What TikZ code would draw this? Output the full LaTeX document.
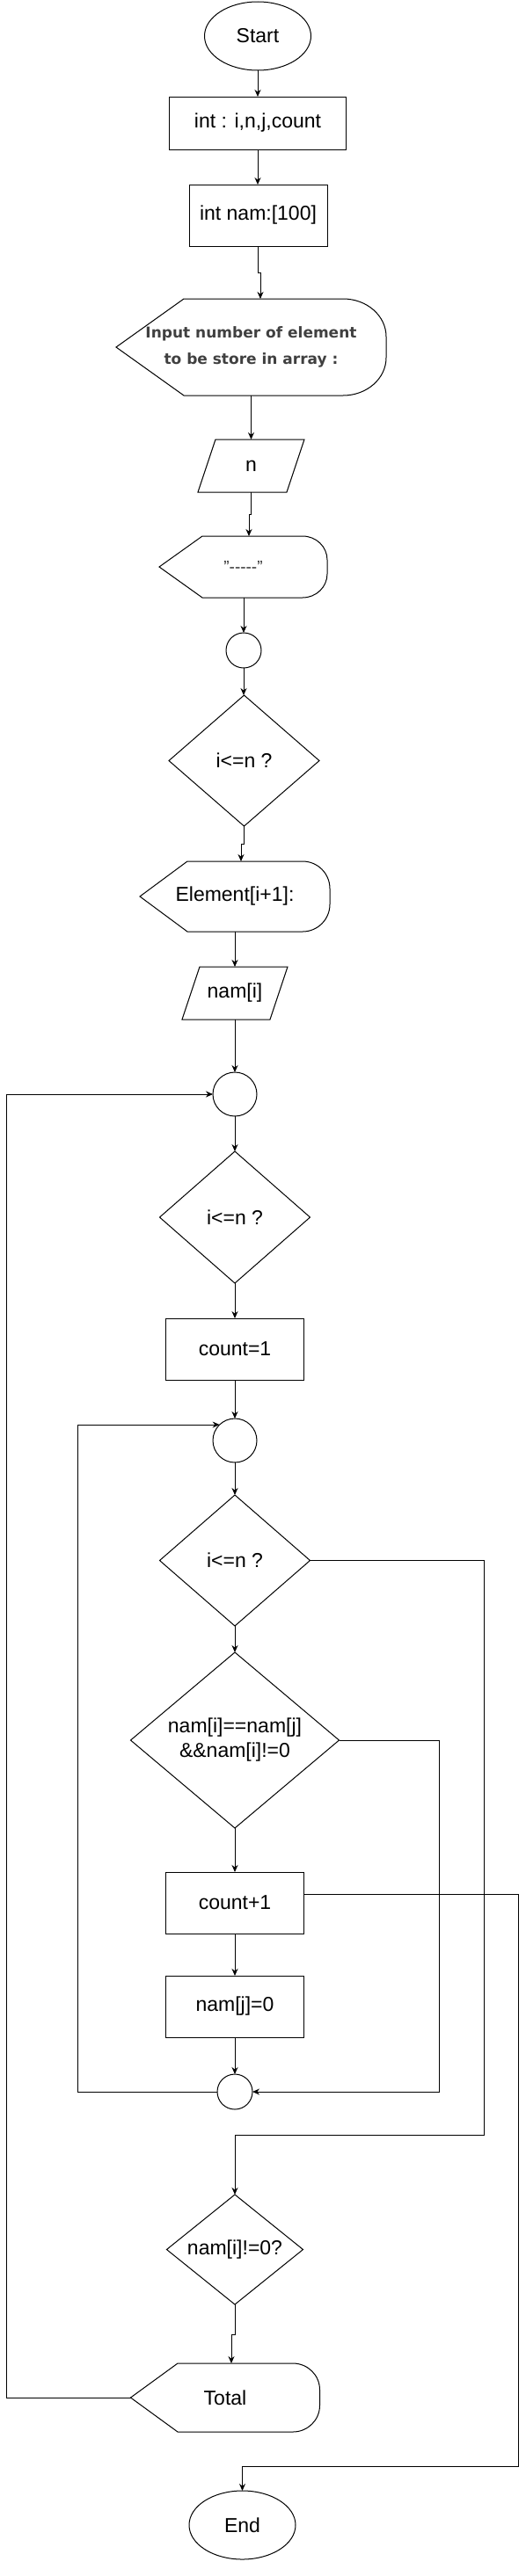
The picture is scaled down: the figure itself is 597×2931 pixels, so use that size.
\documentclass[tikz,border=0pt]{standalone}
\usepackage{fontspec}
\setmainfont{Liberation Sans}
\newfontfamily\dejab{DejaVu Sans}
\usetikzlibrary{shapes.geometric,arrows.meta,calc}
\definecolor{txtgray}{HTML}{404040}
\definecolor{dashgray}{HTML}{333333}
\newcommand\dispshape[4]{\draw (#1.west) -- ($(#1.north west)+(#2,0)$) -- ($(#1.north east)+(-#3,0)$) .. controls +(0.552*#3,0) and +(0,-0.552*#4) .. ($(#1.north east)+(0,#4)$) -- ($(#1.south east)+(0,-#4)$) .. controls +(0,0.552*#4) and +(0.552*#3,0) .. ($(#1.south east)+(-#3,0)$) -- ($(#1.south west)+(#2,0)$) -- cycle;}
\newcommand\parashape[2]{\draw (#1.south west) -- ($(#1.north west)+(#2,0)$) -- (#1.north east) -- ($(#1.south east)+(-#2,0)$) -- cycle;}
\newcommand\diashape[1]{\draw (#1.north) -- (#1.east) -- (#1.south) -- (#1.west) -- cycle;}
\begin{document}
\begin{tikzpicture}[x=1pt,y=-1pt,line width=1pt,
  base/.style={inner sep=0pt, outer sep=0pt, font=\fontsize{23}{28}\selectfont, align=center},
  proc/.style={base, draw, rectangle},
  frame/.style={base, rectangle},
  term/.style={base, draw, ellipse},
  conn/.style={base, draw, circle},
  arr/.style={-{Stealth[length=8pt,width=7pt]}}
]
\fill[white] (0,0) rectangle (597,2931);
\useasboundingbox (0,0) rectangle (597,2931);

\node[term, minimum width=121pt, minimum height=78pt] (start) at (293,41) {Start};
\node[proc, minimum width=201pt, minimum height=60pt] (v1) at (293,140) {int : i,n,j,count};
\node[proc, minimum width=157pt, minimum height=70pt] (v2) at (293.5,245) {int nam:[100]};
\node[frame, minimum width=307pt, minimum height=110pt, font=\dejab\bfseries\fontsize{17}{30}\selectfont, text=txtgray] (d1) at (285.5,395) {Input number of element\\to be store in array :};
\node[frame, minimum width=121pt, minimum height=60pt] (pn) at (285.5,530) {n};
\node[frame, minimum width=191pt, minimum height=70pt, font=\fontsize{19}{22}\selectfont, text=dashgray] (d2) at (276.5,645) {"-\kern0pt-\kern0pt-\kern0pt-\kern0pt-"};
\node[conn, minimum size=40pt] (c1) at (277,740) {};
\node[frame, minimum width=171pt, minimum height=149pt] (q1) at (277.5,865.5) {i<=n ?};
\node[frame, minimum width=216pt, minimum height=80pt] (d3) at (267,1020) {Element[i+1]:};
\node[frame, minimum width=120pt, minimum height=60pt] (pa) at (267,1130) {nam[i]};
\node[conn, minimum size=50pt] (c2) at (267,1245) {};
\node[frame, minimum width=171pt, minimum height=150pt] (q2) at (267,1385) {i<=n ?};
\node[proc, minimum width=157pt, minimum height=70pt] (k1) at (267,1535) {count=1};
\node[conn, minimum size=50pt] (c3) at (267,1639) {};
\node[frame, minimum width=171pt, minimum height=149pt] (q3) at (267,1775.5) {i<=n ?};
\node[frame, minimum width=237pt, minimum height=200pt] (q4) at (267,1980) {nam[i]==nam[j]\\\&\&nam[i]!=0};
\node[proc, minimum width=157pt, minimum height=70pt] (k2) at (267,2165) {count+1};
\node[proc, minimum width=157pt, minimum height=70pt] (k3) at (267,2283) {nam[j]=0};
\node[conn, minimum size=40pt] (c4) at (267,2380) {};
\node[frame, minimum width=155pt, minimum height=125pt] (q5) at (267,2559.5) {nam[i]!=0?};
\node[frame, minimum width=215pt, minimum height=78pt] (d4) at (256,2728) {Total};
\node[term, minimum width=121pt, minimum height=78pt] (end) at (275.5,2873) {End};

\dispshape{d1}{77}{49}{43}
\dispshape{d2}{49}{28}{27}
\dispshape{d3}{54}{31}{31}
\dispshape{d4}{53.5}{30.5}{30}
\parashape{pn}{20}
\parashape{pa}{20}
\diashape{q1}
\diashape{q2}
\diashape{q3}
\diashape{q4}
\diashape{q5}

\coordinate (xo) at (7,0);
\coordinate (xi) at (88,0);
\coordinate (xr2) at (499,0);
\coordinate (j1) at (550,2429);
\coordinate (j2) at (589,2806);
\coordinate (d1in) at ($(d1.north)+(10.5,0)$);
\coordinate (d2in) at ($(d2.north)+(6.5,0)$);
\coordinate (d3in) at ($(d3.north)+(7,0)$);
\coordinate (d4in) at ($(d4.north)+(7,0)$);
\coordinate (k2out) at ($(k2.east)+(0,-10)$);

\draw[arr] (start.south) -- (start.south |- v1.north);
\draw[arr] (v1.south) -- (v1.south |- v2.north);
\draw[arr] (v2.south) -- ++(0,30) -| (d1in);
\draw[arr] (pn.north |- d1.south) -- (pn.north);
\draw[arr] (pn.south) -- ++(0,25) -| (d2in);
\draw[arr] (c1.north |- d2.south) -- (c1.north);
\draw[arr] (c1.south) -- (c1.south |- q1.north);
\draw[arr] (q1.south) -- ++(0,20) -| (d3in);
\draw[arr] (d3.south) -- (pa.north);
\draw[arr] (pa.south) -- (c2.north);
\draw[arr] (c2.south) -- (q2.north);
\draw[arr] (q2.south) -- (k1.north);
\draw[arr] (k1.south) -- (c3.north);
\draw[arr] (c3.south) -- (q3.north);
\draw[arr] (q3.south) -- (q4.north);
\draw[arr] (q4.south) -- (k2.north);
\draw[arr] (k2.south) -- (k3.north);
\draw[arr] (k3.south) -- (c4.north);
\draw[arr] (q5.south) -- ++(0,34) -| (d4in);

\draw[arr] (d4.west) -| (c2.west -| xo) -- (c2.west);
\draw[arr] (c4.west) -| (c3.134 -| xi) -- (c3.134);
\draw[arr] (q3.east) -| (j1) -| (q5.north);
\draw[arr] (q4.east) -| (c4.east -| xr2) -- (c4.east);
\draw[arr] (k2out) -| (j2) -| (end.north);
\end{tikzpicture}
\end{document}
